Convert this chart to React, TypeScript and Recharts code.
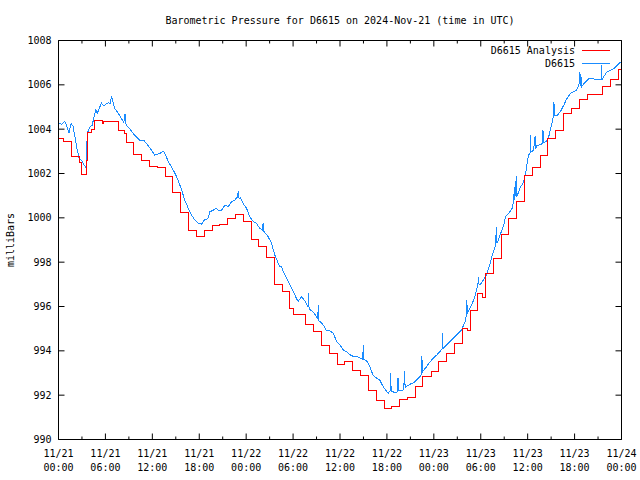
import { LineChart, Line, XAxis, YAxis } from 'recharts';

const FONT = '"DejaVu Sans Mono", "Liberation Mono", monospace';
const RED = '#ff0000';
const BLUE = '#1a8cff';

// time axis: hours since 2024-11-21 00:00 UTC
const X_TICKS = [0, 3, 6, 9, 12, 15, 18, 21, 24, 27, 30, 33, 36, 39, 42, 45, 48, 51, 54, 57, 60, 63, 66, 69, 72];
const X_DATES = ['11/21', '11/21', '11/21', '11/21', '11/22', '11/22', '11/22', '11/22', '11/23', '11/23', '11/23', '11/23', '11/24'];
const X_TIMES = ['00:00', '06:00', '12:00', '18:00', '00:00', '06:00', '12:00', '18:00', '00:00', '06:00', '12:00', '18:00', '00:00'];
const Y_TICKS = [990, 992, 994, 996, 998, 1000, 1002, 1004, 1006, 1008];

// [hour, mbar] - D6615 Analysis (stepped)
const ANALYSIS: [number, number][] = [
  [0, 1003.58], [0.65, 1003.45], [1.65, 1002.78], [2.63, 1002.5], [2.9, 1001.95],
  [3.57, 1002.6], [3.7, 1003.87], [4.2, 1004.0], [4.65, 1004.37], [5.63, 1004.25],
  [5.8, 1004.35], [6.63, 1004.33], [7.7, 1003.95], [8.47, 1003.8], [8.65, 1003.38],
  [9.62, 1002.87], [10.6, 1002.57], [11.63, 1002.3], [12.63, 1002.25], [13.65, 1001.88],
  [14.55, 1001.15], [15.65, 1000.23], [16.65, 999.45], [17.65, 999.15], [18.65, 999.45],
  [19.65, 999.67], [20.65, 999.72], [21.65, 999.95], [22.65, 1000.17], [23.65, 999.83],
  [24.63, 999.03], [25.53, 998.7], [26.65, 998.2], [27.6, 997.0], [28.7, 996.67],
  [29.6, 995.9], [30.0, 995.65], [31.63, 995.17], [32.65, 994.87], [33.65, 994.23],
  [34.63, 993.9], [35.65, 993.37], [36.63, 993.5], [37.63, 993.12], [38.65, 992.9],
  [39.7, 992.2], [40.65, 991.75], [41.63, 991.42], [42.63, 991.5], [43.65, 991.8],
  [44.65, 991.9], [45.6, 992.4], [46.6, 992.82], [47.65, 993.07], [48.6, 993.52],
  [49.65, 993.9], [50.63, 994.35], [51.65, 995.02], [52.3, 994.9], [52.63, 995.8],
  [53.62, 996.6], [54.2, 996.4], [54.63, 997.47], [55.62, 998.17], [56.65, 999.26],
  [57.6, 999.95], [58.57, 1000.72], [59.6, 1001.92], [60.65, 1002.25], [61.62, 1002.82],
  [62.6, 1003.58], [63.6, 1003.95], [64.6, 1004.7], [65.65, 1004.95], [66.64, 1005.33],
  [67.65, 1005.55], [68.65, 1005.55], [69.6, 1005.94], [70.6, 1006.24], [71.6, 1006.7],
  [72, 1006.7],
];

// [hour, mbar] - D6615 observations
const OBS: [number, number][] = [
  [0.0, 1004.3], [0.4, 1004.22], [0.8, 1004.35], [1.1, 1004.1], [1.35, 1003.83],
  [1.6, 1004.25], [1.85, 1004.15], [2.1, 1003.65], [2.4, 1003.05], [2.65, 1002.68],
  [2.95, 1002.6], [3.15, 1002.45], [3.45, 1002.3], [3.55, 1002.35], [3.62, 1003.35],
  [3.72, 1003.85], [4.0, 1004.1], [4.3, 1004.17], [4.55, 1004.55], [4.77, 1004.88],
  [4.95, 1004.7], [5.2, 1004.93], [5.5, 1005.18], [5.75, 1005.05], [6.05, 1005.12],
  [6.4, 1005.2], [6.6, 1005.15], [6.78, 1005.5], [6.95, 1005.25], [7.2, 1004.93],
  [7.6, 1004.75], [8.05, 1004.48], [8.35, 1004.3], [8.5, 1004.7], [8.6, 1004.25],
  [8.7, 1004.17], [9.1, 1004.02], [9.75, 1003.72], [10.4, 1003.5], [10.9, 1003.5],
  [11.25, 1003.35], [11.9, 1003.05], [12.3, 1002.83], [12.9, 1002.9], [13.45, 1003.0],
  [13.8, 1002.75], [14.05, 1002.52], [14.45, 1002.3], [14.9, 1002.0], [15.3, 1001.7],
  [15.75, 1001.25], [16.15, 1000.8], [16.6, 1000.43], [17.0, 1000.13], [17.45, 999.9],
  [17.9, 999.75], [18.3, 999.72], [18.7, 999.93], [19.1, 999.95], [19.35, 1000.27],
  [19.8, 1000.35], [20.2, 1000.43], [20.5, 1000.32], [20.85, 1000.35], [21.3, 1000.57],
  [21.7, 1000.5], [22.15, 1000.73], [22.55, 1000.8], [22.9, 1000.95], [23.0, 1001.2],
  [23.1, 1000.85], [23.3, 1000.9], [23.6, 1000.65], [24.05, 1000.43], [24.45, 1000.05],
  [24.9, 999.83], [25.3, 999.75], [25.75, 999.53], [26.1, 999.45], [26.17, 999.78],
  [26.25, 999.4], [26.8, 999.15], [27.25, 998.85], [27.65, 998.33], [28.1, 997.95],
  [28.35, 997.78], [28.5, 997.8], [28.85, 997.5], [29.2, 997.27], [29.6, 996.97],
  [30.05, 996.67], [30.45, 996.34], [30.7, 996.25], [31.1, 996.45], [31.5, 996.25],
  [31.9, 996.0], [31.96, 996.6], [32.05, 995.9], [32.2, 995.85], [32.6, 995.74],
  [33.15, 995.45], [33.23, 996.07], [33.3, 995.35], [33.45, 995.32], [33.85, 995.17],
  [34.3, 994.9], [34.7, 994.9], [35.15, 994.8], [35.55, 994.42], [36.0, 994.27],
  [36.4, 994.05], [36.8, 993.97], [37.3, 993.82], [37.7, 993.75], [38.1, 993.75],
  [38.55, 993.67], [38.9, 993.62], [38.98, 994.27], [39.05, 993.6], [39.4, 993.55],
  [39.8, 993.3], [40.25, 992.88], [40.7, 992.77], [41.1, 992.67], [41.5, 992.4],
  [41.95, 992.17], [42.2, 992.1], [42.4, 992.2], [42.47, 993.0], [42.55, 992.15],
  [42.8, 992.15], [43.1, 992.1], [43.35, 992.15], [43.42, 992.78], [43.5, 992.2],
  [43.8, 992.2], [44.15, 992.25], [44.25, 993.08], [44.33, 992.35], [44.55, 992.4],
  [45.0, 992.5], [45.4, 992.55], [45.85, 992.7], [46.25, 992.85], [46.4, 992.95],
  [46.47, 993.75], [46.55, 993.05], [47.1, 993.3], [47.55, 993.52], [47.95, 993.67],
  [48.4, 993.82], [48.8, 993.97], [49.05, 994.1], [49.1, 994.8], [49.18, 994.1],
  [49.45, 994.2], [49.85, 994.35], [50.3, 994.5], [50.7, 994.65], [51.15, 994.8],
  [51.55, 994.95], [52.0, 995.32], [52.15, 995.6], [52.21, 996.3], [52.3, 995.7],
  [52.45, 995.8], [52.85, 996.07], [53.25, 996.45], [53.5, 996.8], [53.65, 997.05],
  [53.7, 997.35], [53.78, 997.0], [53.95, 997.0], [54.35, 997.2], [54.75, 997.42],
  [55.2, 997.95], [55.6, 998.47], [55.9, 998.75], [56.0, 999.6], [56.08, 998.85],
  [56.3, 999.05], [56.6, 999.35], [56.94, 999.67], [57.15, 1000.05], [57.6, 1000.2],
  [58.0, 1000.42], [58.2, 1000.72], [58.3, 1001.4], [58.35, 1000.8], [58.55, 1001.9],
  [58.6, 1000.95], [58.85, 1001.17], [59.1, 1001.4], [59.4, 1001.55], [59.7, 1001.92],
  [59.9, 1002.37], [60.1, 1002.82], [60.3, 1002.9], [60.34, 1003.72], [60.4, 1002.95],
  [60.75, 1003.05], [60.95, 1003.67], [61.0, 1003.1], [61.2, 1003.27], [61.6, 1003.3],
  [61.9, 1003.35], [61.96, 1003.95], [62.02, 1003.4], [62.4, 1003.45], [62.7, 1003.67],
  [63.1, 1004.25], [63.3, 1004.62], [63.36, 1005.22], [63.42, 1004.6], [63.75, 1004.62],
  [64.15, 1004.77], [64.6, 1005.07], [65.0, 1005.37], [65.45, 1005.6], [65.85, 1005.7],
  [66.25, 1005.75], [66.6, 1006.05], [66.65, 1006.57], [66.72, 1005.95], [66.8, 1006.5],
  [66.88, 1005.9], [67.35, 1006.12], [67.8, 1006.27], [68.2, 1006.3], [68.65, 1006.24],
  [69.05, 1006.22], [69.38, 1006.25], [69.42, 1006.9], [69.5, 1006.2], [69.7, 1006.35],
  [70.1, 1006.57], [70.55, 1006.65], [71.0, 1006.72], [71.4, 1006.87], [71.85, 1007.02],
  [72.0, 1007.05],
];

const analysisData = ANALYSIS.map(([t, p]) => ({ t, p }));
const obsData = OBS.map(([t, p]) => ({ t, p }));

const txt = { fontFamily: FONT, fontSize: 10, fill: '#000' };

// gnuplot style: ticks point into the plot
const BottomTick = ({ x, y, payload }: any) => {
  const v = payload.value;
  const major = v % 6 === 0;
  const i = v / 6;
  return (
    <g>
      <line x1={x} y1={y} x2={x} y2={y - (major ? 6 : 3)} stroke="#000" />
      {major && (
        <>
          <text x={x} y={y + 17} textAnchor="middle" {...txt}>{X_DATES[i]}</text>
          <text x={x} y={y + 31} textAnchor="middle" {...txt}>{X_TIMES[i]}</text>
        </>
      )}
    </g>
  );
};

const TopTick = ({ x, y, payload }: any) => {
  const major = payload.value % 6 === 0;
  return <line x1={x} y1={y} x2={x} y2={y + (major ? 6 : 3)} stroke="#000" />;
};

const LeftTick = ({ x, y, payload }: any) => (
  <g>
    <line x1={x} y1={y} x2={x + 6} y2={y} stroke="#000" />
    <text x={x - 7} y={y + 3.5} textAnchor="end" {...txt}>{payload.value}</text>
  </g>
);

const RightTick = ({ x, y }: any) => <line x1={x} y1={y} x2={x - 6} y2={y} stroke="#000" />;

export default function App() {
  return (
    <div style={{ position: 'absolute', left: 0, top: 0, width: 640, height: 480, background: '#fff' }}>
      <LineChart
        width={640}
        height={480}
        margin={{ top: 0.5, right: 0.5, bottom: 0.5, left: 0.5 }}
      >
        <XAxis
          xAxisId="b"
          type="number"
          dataKey="t"
          domain={[0, 72]}
          allowDataOverflow
          ticks={X_TICKS}
          interval={0}
          height={40}
          tickSize={0}
          tickMargin={0}
          tickLine={false}
          axisLine={{ stroke: '#000' }}
          tick={<BottomTick />}
        />
        <XAxis
          xAxisId="t"
          orientation="top"
          type="number"
          dataKey="t"
          domain={[0, 72]}
          allowDataOverflow
          ticks={X_TICKS}
          interval={0}
          height={40}
          tickSize={0}
          tickMargin={0}
          tickLine={false}
          axisLine={{ stroke: '#000' }}
          tick={<TopTick />}
        />
        <YAxis
          yAxisId="l"
          type="number"
          domain={[990, 1008]}
          allowDataOverflow
          ticks={Y_TICKS}
          interval={0}
          width={58}
          tickSize={0}
          tickMargin={0}
          tickLine={false}
          axisLine={{ stroke: '#000' }}
          tick={<LeftTick />}
        />
        <YAxis
          yAxisId="r"
          orientation="right"
          type="number"
          domain={[990, 1008]}
          allowDataOverflow
          ticks={Y_TICKS}
          interval={0}
          width={18}
          tickSize={0}
          tickMargin={0}
          tickLine={false}
          axisLine={{ stroke: '#000' }}
          tick={<RightTick />}
        />
        <Line
          xAxisId="b"
          yAxisId="l"
          data={obsData}
          dataKey="p"
          type="linear"
          stroke={BLUE}
          strokeWidth={1}
          dot={false}
          shapeRendering="crispEdges"
          isAnimationActive={false}
        />
        <Line
          xAxisId="b"
          yAxisId="l"
          data={analysisData}
          dataKey="p"
          type="stepAfter"
          stroke={RED}
          strokeWidth={1}
          dot={false}
          shapeRendering="crispEdges"
          isAnimationActive={false}
        />
      </LineChart>
      <svg width={640} height={480} style={{ position: 'absolute', left: 0, top: 0, pointerEvents: 'none' }}>
        <text x={340} y={24} textAnchor="middle" {...txt}>
          Barometric Pressure for D6615 on 2024-Nov-21 (time in UTC)
        </text>
        <text x={0} y={0} textAnchor="middle" transform="translate(14,240) rotate(-90)" {...txt}>
          milliBars
        </text>
        <text x={575} y={54} textAnchor="end" {...txt}>D6615 Analysis</text>
        <line x1={582} y1={50.5} x2={610} y2={50.5} stroke={RED} />
        <text x={575} y={67} textAnchor="end" {...txt}>D6615</text>
        <line x1={582} y1={63.5} x2={610} y2={63.5} stroke={BLUE} />
      </svg>
    </div>
  );
}
